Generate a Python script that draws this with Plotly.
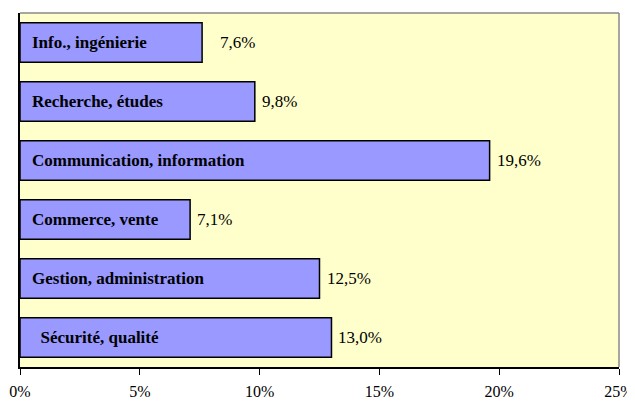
import plotly.graph_objects as go

# ─── Data ─────────────────────────────────────────────────────────────────────

categories = [
    "Info., ingénierie",
    "Recherche, études",
    "Communication, information",
    "Commerce, vente",
    "Gestion, administration",
    " Sécurité, qualité",
]
values = [7.6, 9.8, 19.6, 7.1, 12.5, 13.0]
tick_vals = [0, 5, 10, 15, 20, 25]
tick_text = ["0%", "5%", "10%", "15%", "20%", "25%"]

# ─── Style ────────────────────────────────────────────────────────────────────

PLOT_BG = "#FFFFCC"
BAR     = "#9999FF"
SERIF   = "Times New Roman, Liberation Serif, DejaVu Serif, serif"
LABEL_GAP = {"Info., ingénierie": 16}   # the first value label sits further out

fig = go.Figure(go.Bar(
    x=values, y=categories, orientation="h",
    marker=dict(color=BAR, line=dict(color="black", width=1.5)),
    width=0.67, hoverinfo="skip",
))

# labels inside the bars (left) and values after the bar ends
for cat, v in zip(categories, values):
    indent = "\u00a0\u00a0" if cat.startswith(" ") else ""
    fig.add_annotation(
        x=0, y=cat, text=f"<b>{indent}{cat.strip()}</b>",
        xanchor="left", xshift=10, showarrow=False,
        font=dict(family=SERIF, size=17, color="black"),
    )
    fig.add_annotation(
        x=v, y=cat, text=f"{v:.1f}%".replace(".", ","),
        xanchor="left", xshift=LABEL_GAP.get(cat, 5), showarrow=False,
        font=dict(family=SERIF, size=17, color="black"),
    )

# thin grey frame on top and right of the plot area
fig.add_shape(type="line", xref="x domain", yref="y domain",
              x0=0, x1=1, y0=1, y1=1, line=dict(color="#888888", width=1.5))
fig.add_shape(type="line", xref="x domain", yref="y domain",
              x0=1, x1=1, y0=0, y1=1, line=dict(color="#888888", width=1.5))

# page body has an 8px margin, so the figure is offset by (8, 8)
fig.update_layout(
    width=635, height=401,
    paper_bgcolor="white", plot_bgcolor=PLOT_BG,
    margin=dict(l=12, r=24, t=5, b=42),
    showlegend=False,
    font=dict(family=SERIF, size=16, color="black"),
    xaxis=dict(
        range=[0, 25], tickvals=tick_vals, ticktext=tick_text,
        showgrid=False, zeroline=False, automargin=False,
        showline=True, linecolor="black", linewidth=1.5,
        ticks="outside", ticklen=6, tickcolor="black",
        ticklabelstandoff=3,
        tickfont=dict(family=SERIF, size=16, color="black"),
    ),
    yaxis=dict(
        categoryorder="array", categoryarray=categories,
        autorange="reversed", automargin=False,
        showticklabels=False, showgrid=False, zeroline=False,
        showline=True, linecolor="black", linewidth=1.5,
        ticks="",
    ),
)

fig.write_html("out.html")
